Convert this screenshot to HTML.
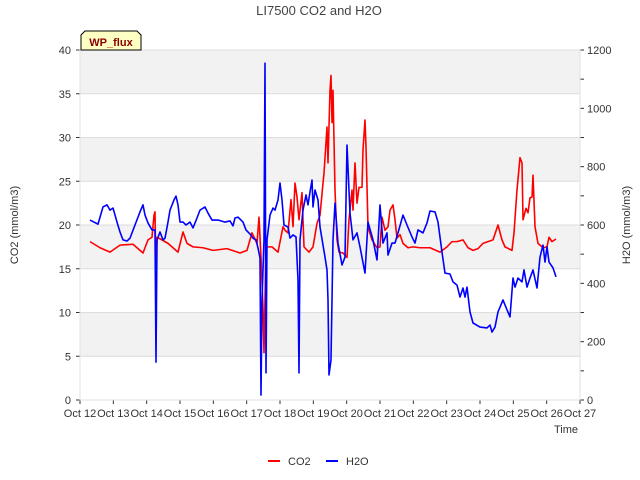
<!DOCTYPE html>
<html><head><meta charset="utf-8"><style>
html,body{margin:0;padding:0;background:#fff;}
svg{display:block;font-family:"Liberation Sans",sans-serif;}
</style></head><body>
<svg id="chart" width="640" height="480">
<text x="319" y="15" font-size="13" fill="#444" text-anchor="middle">LI7500 CO2 and H2O</text>
<g id="grid"></g>
<g id="axes"></g>
<g id="series"></g>
<g>
<path d="M81,50 L81,35 L85,31 L137,31 L141,35 L141,50 Z" fill="#ffffc4" stroke="#000" stroke-width="1"/>
<text x="111" y="46" font-size="11" font-weight="bold" fill="#8b0000" text-anchor="middle">WP_flux</text>
</g>
<text transform="translate(18,225) rotate(-90)" font-size="11" fill="#333" text-anchor="middle">CO2 (mmol/m3)</text>
<text transform="translate(630,225) rotate(-90)" font-size="11" fill="#333" text-anchor="middle">H2O (mmol/m3)</text>
<text x="578" y="433" font-size="11" fill="#333" text-anchor="end">Time</text>
<g>
<g><line x1="268" y1="461" x2="280" y2="461" stroke="#f00" stroke-width="2"/><text x="288" y="465" font-size="11" fill="#333">CO2</text></g>
<g><line x1="326" y1="461" x2="338" y2="461" stroke="#00f" stroke-width="2"/><text x="346" y="465" font-size="11" fill="#333">H2O</text></g>
</g>
</svg>
<script>
const xTickLabels=["Oct 12","Oct 13","Oct 14","Oct 15","Oct 16","Oct 17","Oct 18","Oct 19","Oct 20","Oct 21","Oct 22","Oct 23","Oct 24","Oct 25","Oct 26","Oct 27"];
const leftTicks=[0,5,10,15,20,25,30,35,40];
const rightTicks=[0,200,400,600,800,1000,1200];
const co2Days=[0.30,0.60,0.90,1.20,1.59,1.89,2.04,2.16,2.22,2.25,2.28,2.31,2.46,2.64,2.94,3.09,3.21,3.39,3.69,3.99,4.41,4.80,5.01,5.16,5.31,5.37,5.43,5.49,5.52,5.58,5.76,5.94,6.09,6.15,6.24,6.33,6.39,6.45,6.51,6.57,6.66,6.72,6.87,6.99,7.11,7.20,7.29,7.32,7.41,7.44,7.50,7.53,7.56,7.59,7.65,7.71,7.77,7.89,8.01,8.07,8.16,8.19,8.25,8.31,8.37,8.46,8.49,8.55,8.58,8.64,8.76,8.91,9.00,9.06,9.15,9.24,9.30,9.39,9.45,9.51,9.60,9.69,9.84,9.99,10.20,10.50,10.80,11.01,11.16,11.31,11.49,11.64,11.79,11.94,12.09,12.24,12.39,12.54,12.66,12.75,12.96,13.02,13.11,13.20,13.26,13.29,13.38,13.44,13.50,13.56,13.59,13.65,13.74,13.89,14.01,14.07,14.16,14.28];
const co2Values=[18.1,17.4,16.9,17.7,17.8,16.8,18.3,18.6,21.1,21.5,13.7,18.6,18.3,17.9,16.9,19.2,17.9,17.5,17.4,17.1,17.3,16.8,17.1,19.1,17.9,20.9,16.3,10.6,5.4,17.5,17.5,16.9,19.8,19.4,19.1,22.9,19.8,24.8,23.2,20.6,23.7,17.5,16.9,17.5,20.2,21.1,24.8,25.9,31.2,27.1,35.4,37.1,31.7,35.4,24.0,18.3,16.9,16.8,16.3,20.6,24.0,21.7,27.1,22.5,24.3,24.3,28.6,32.0,28.9,19.8,18.3,17.4,17.5,20.9,19.4,19.8,21.7,22.3,20.6,18.5,18.9,17.9,17.4,17.5,17.4,17.4,16.9,17.5,18.1,18.1,18.3,17.4,17.1,17.3,17.9,18.1,18.3,20.0,18.3,17.5,17.1,19.1,24.0,27.7,27.1,20.6,21.9,21.4,23.1,23.2,25.7,19.8,17.9,17.4,17.5,18.6,18.1,18.4];
const h2oDays=[0.30,0.54,0.69,0.81,0.90,0.99,1.11,1.20,1.29,1.41,1.50,1.65,1.80,1.89,1.95,2.04,2.16,2.25,2.28,2.31,2.40,2.49,2.55,2.64,2.70,2.82,2.88,2.94,3.00,3.09,3.18,3.30,3.39,3.51,3.60,3.75,3.84,3.96,4.14,4.35,4.50,4.59,4.65,4.74,4.89,4.98,5.10,5.19,5.28,5.34,5.40,5.43,5.46,5.52,5.55,5.58,5.61,5.70,5.79,5.85,5.94,6.00,6.06,6.12,6.24,6.30,6.39,6.48,6.54,6.57,6.60,6.69,6.78,6.84,6.90,6.96,6.99,7.05,7.14,7.20,7.29,7.35,7.41,7.44,7.47,7.53,7.59,7.65,7.74,7.86,7.95,8.01,8.10,8.19,8.31,8.40,8.55,8.64,8.79,8.91,9.00,9.09,9.21,9.24,9.36,9.45,9.54,9.69,9.81,9.96,10.05,10.14,10.29,10.41,10.50,10.65,10.74,10.86,10.95,11.10,11.19,11.31,11.40,11.49,11.55,11.61,11.70,11.79,12.00,12.21,12.30,12.36,12.45,12.54,12.69,12.81,12.90,12.99,13.05,13.14,13.26,13.32,13.41,13.50,13.59,13.71,13.80,13.89,13.95,14.01,14.07,14.19,14.28];
const h2oValues=[617,603,662,669,651,658,610,576,549,545,555,600,645,669,634,607,583,583,130,549,576,549,555,610,651,686,699,669,610,610,600,610,590,624,651,662,641,617,617,610,614,597,624,627,610,583,569,555,549,521,487,17,343,549,1155,93,549,634,658,651,686,744,686,600,593,555,566,559,411,93,549,651,703,669,713,754,662,720,686,593,531,490,446,343,86,137,549,675,538,463,490,874,641,549,573,525,435,610,549,480,669,538,573,497,538,538,573,634,600,559,538,583,573,607,648,645,610,507,435,432,405,394,353,384,353,387,302,264,250,247,257,233,250,302,343,309,285,418,387,418,405,446,387,418,446,384,490,531,473,525,473,453,422];

const NS="http://www.w3.org/2000/svg";
const L=80,R=580,T=50,B=400;
const xScale=d=>L+(R-L)*d/15;
const yLeft=v=>B-(B-T)*v/40;
const yRight=v=>B-(B-T)*v/1200;
function mk(tag,attrs,parent){const e=document.createElementNS(NS,tag);for(const k in attrs)e.setAttribute(k,attrs[k]);parent.appendChild(e);return e;}
const grid=document.getElementById('grid'),axes=document.getElementById('axes'),series=document.getElementById('series');
// bands
for(let i=0;i<leftTicks.length-1;i++){
  if(i%2===1){
    const r=mk('rect',{x:L,y:yLeft(leftTicks[i+1]),width:R-L,height:yLeft(leftTicks[i])-yLeft(leftTicks[i+1]),fill:'#f2f2f2'},grid);
    
    
  }
}
leftTicks.forEach(v=>{
  const y=yLeft(v);
  const g=mk('line',{x1:L,x2:R,y1:y,y2:y,stroke:'#dcdcdc','stroke-width':1},grid);
  
  
  mk('line',{x1:L-4,x2:L,y1:y,y2:y,stroke:'#333'},axes);
  const t=mk('text',{x:L-9,y:y+4,'font-size':11,fill:'#333','text-anchor':'end'},axes);
  t.textContent=v;
  
  
});
for(let v=0;v<=1200;v+=100){
  const y=yRight(v);
  mk('line',{x1:R,x2:R+4,y1:y,y2:y,stroke:'#333'},axes);
}
rightTicks.forEach(v=>{
  const y=yRight(v);
  const t=mk('text',{x:R+7,y:y+4,'font-size':11,fill:'#333'},axes);
  t.textContent=v;
  
  
});
xTickLabels.forEach((lab,i)=>{
  const x=xScale(i);
  mk('line',{x1:x,x2:x,y1:B,y2:B+4,stroke:'#333'},axes);
  const t=mk('text',{x:x,y:B+17,'font-size':11,fill:'#333','text-anchor':'middle'},axes);
  t.textContent=lab;
  
  
});
mk('rect',{x:L,y:T,width:R-L,height:B-T,fill:'none',stroke:'#e0e0e0'},axes);
const co2=mk('polyline',{points:co2Days.map((d,i)=>xScale(d)+','+yLeft(co2Values[i])).join(' '),fill:'none',stroke:'#f00','stroke-width':1.6,'stroke-linejoin':'round'},series);


const h2o=mk('polyline',{points:h2oDays.map((d,i)=>xScale(d)+','+yRight(h2oValues[i])).join(' '),fill:'none',stroke:'#00f','stroke-width':1.6,'stroke-linejoin':'round'},series);


</script>
</body></html>
